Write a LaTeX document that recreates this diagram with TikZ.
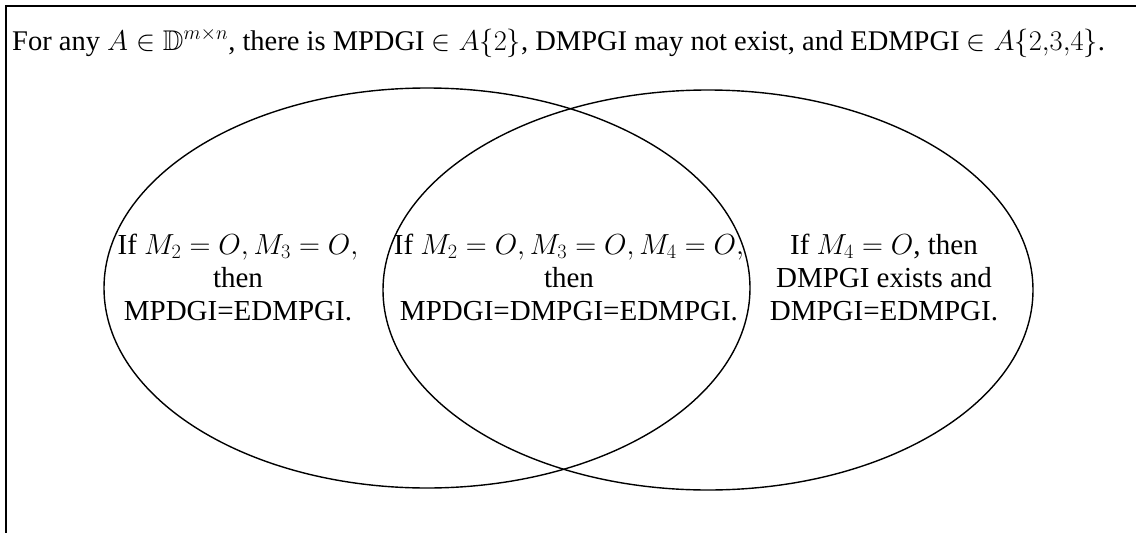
\documentclass[tikz,border=0pt]{standalone}
\usepackage{fix-cm}
\usepackage{amsmath,amssymb}
\usepackage{fontspec}
\setmainfont{Liberation Serif}
\begin{document}
\begin{tikzpicture}[x=1pt,y=-1pt,
  txt/.style={font=\fontsize{29}{33}\selectfont, align=center, inner sep=0pt},
  venn/.style={line width=1.4pt}]
\useasboundingbox (0,0) rectangle (1136,533);
\draw[line width=2pt] (6,533) -- (6,6) -- (1136,6);
\node[txt, anchor=base west, font=\fontsize{28.5}{33}\selectfont] (title) at (12,50) {For any $A\in\mathbb{D}^{m\times n}$, there is MPDGI $\in A\{2\}$, DMPGI may not exist, and EDMPGI $\in A\{2{,}3{,}4\}$.};
\draw[venn] (427,288) ellipse [x radius=323, y radius=200];
\draw[venn] (708,290) ellipse [x radius=325, y radius=200];
\node[txt] (l) at (238,277) {If $M_2=O, M_3=O,$\\then\\MPDGI=EDMPGI.};
\node[txt] (m) at (569,277) {If $M_2=O, M_3=O, M_4=O,$\\then\\MPDGI=DMPGI=EDMPGI.};
\node[txt] (r) at (884,277) {If $M_4=O$, then\\DMPGI exists and\\DMPGI=EDMPGI.};
\end{tikzpicture}
\end{document}
